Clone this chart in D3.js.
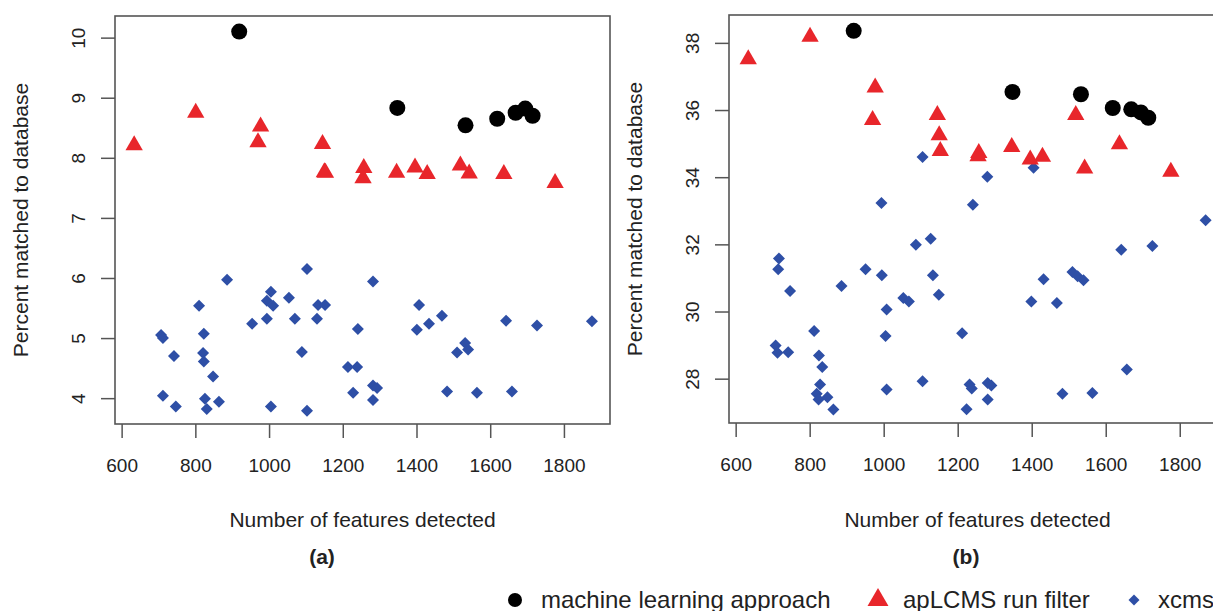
<!DOCTYPE html>
<html><head><meta charset="utf-8">
<script src="https://cdn.jsdelivr.net/npm/d3@7"></script>
<style>html,body{margin:0;padding:0;background:#fff;}svg{display:block;}</style>
</head><body>
<svg id="chart" width="1213" height="611"></svg>
<script>
// ---------- data ----------
const xTicks = [600, 800, 1000, 1200, 1400, 1600, 1800];
const yTicksA = [4, 5, 6, 7, 8, 9, 10];
const yTicksB = [28, 30, 32, 34, 36, 38];

const seriesNames = ["machine learning approach", "apLCMS run filter", "xcms"];

const mlFeatures = [919, 1348, 1533, 1619, 1669, 1695, 1715];
const mlMatchA = [10.10, 8.83, 8.54, 8.65, 8.75, 8.82, 8.70];
const mlMatchB = [38.36, 36.54, 36.47, 36.06, 36.02, 35.93, 35.77];

const apFeatures = [634, 801, 977, 970, 1145, 1150, 1153, 1255, 1257, 1346, 1396, 1429, 1519, 1543, 1637, 1776];
const apMatchA = [8.21, 8.75, 8.52, 8.26, 8.23, 7.76, 7.75, 7.66, 7.83, 7.75, 7.84, 7.73, 7.87, 7.74, 7.73, 7.58];
const apMatchB = [37.51, 38.18, 36.67, 35.70, 35.85, 35.25, 34.78, 34.62, 34.72, 34.90, 34.53, 34.61, 35.85, 34.26, 34.98, 34.16];

const xcmsFeaturesA = [707, 712, 742, 712, 747, 810, 823, 821, 823, 848, 826, 831, 864, 886, 954, 994, 994, 1005, 1011, 1005, 1054, 1070, 1089, 1103, 1103, 1130, 1133, 1152, 1241, 1214, 1239, 1228, 1282, 1282, 1293, 1282, 1407, 1401, 1434, 1469, 1532, 1510, 1540, 1483, 1564, 1643, 1659, 1727, 1876];
const xcmsMatchA = [5.05, 5.00, 4.70, 4.04, 3.86, 5.54, 5.07, 4.75, 4.61, 4.36, 3.99, 3.82, 3.94, 5.97, 5.24, 5.32, 5.62, 5.77, 5.54, 3.86, 5.67, 5.32, 4.77, 6.15, 3.79, 5.32, 5.55, 5.55, 5.15, 4.52, 4.52, 4.09, 5.94, 4.21, 4.17, 3.97, 5.55, 5.14, 5.24, 5.37, 4.92, 4.76, 4.81, 4.11, 4.09, 5.29, 4.11, 5.21, 5.28];

const xcmsFeaturesB = [717, 715, 747, 708, 713, 742, 812, 825, 834, 828, 819, 824, 848, 864, 886, 951, 995, 994, 1008, 1005, 1008, 1053, 1068, 1087, 1105, 1105, 1127, 1133, 1149, 1212, 1224, 1232, 1238, 1241, 1280, 1281, 1291, 1281, 1405, 1399, 1432, 1468, 1510, 1524, 1540, 1483, 1564, 1642, 1726, 1657, 1870];
const xcmsMatchB = [31.58, 31.26, 30.61, 28.99, 28.77, 28.79, 29.42, 28.69, 28.35, 27.83, 27.55, 27.38, 27.45, 27.08, 30.76, 31.26, 31.08, 33.23, 30.06, 29.27, 27.68, 30.40, 30.30, 31.99, 34.60, 27.92, 32.17, 31.08, 30.50, 29.35, 27.09, 27.83, 27.71, 33.18, 34.01, 27.87, 27.80, 27.38, 34.28, 30.30, 30.96, 30.25, 31.18, 31.05, 30.93, 27.55, 27.57, 31.84, 31.95, 28.27, 32.72];

const xTitle = "Number of features detected";
const yTitle = "Percent matched to database";

// ---------- style ----------
const FONT = "'Liberation Sans', Arial, Helvetica, sans-serif";
const TXT = "#222";
const AX = "#555";
const RED = "#e8262b";
const BLUE = "#2e4fa6";

const svg = d3.select("#chart");
svg.append("rect").attr("width", 1213).attr("height", 611).attr("fill", "#fff");

const panels = [
  {left: 115, right: 610, top: 16, bottom: 424, xDom: [582, 1925], yDom: [3.57, 10.36], yTicks: yTicksA,
   ml: mlMatchA, ap: apMatchA, xcmsX: xcmsFeaturesA, xcmsY: xcmsMatchA, label: "(a)", labelX: 322},
  {left: 729, right: 1226, top: 15, bottom: 423, xDom: [582, 1925], yDom: [26.68, 38.83], yTicks: yTicksB,
   ml: mlMatchB, ap: apMatchB, xcmsX: xcmsFeaturesB, xcmsY: xcmsMatchB, label: "(b)", labelX: 966}
];

const triPath = d3.symbol().type(d3.symbolTriangle).size(130)();
const diaPath = d3.symbol().type(d3.symbolSquare).size(72)();

panels.forEach(p => {
  const x = d3.scaleLinear().domain(p.xDom).range([p.left, p.right]);
  const y = d3.scaleLinear().domain(p.yDom).range([p.bottom, p.top]);
  const g = svg.append("g");

  // x axis
  const xa = g.append("g").attr("transform", `translate(0,${p.bottom})`)
    .call(d3.axisBottom(x).tickValues(xTicks).tickSize(14).tickPadding(21).tickFormat(d3.format("d")));
  xa.select(".domain").remove();
  xa.selectAll("line").attr("stroke", AX).attr("stroke-width", 1.5);
  xa.selectAll("text").attr("fill", TXT).style("font-family", FONT).style("font-size", "19px");

  // y axis
  const ya = g.append("g").attr("transform", `translate(${p.left},0)`)
    .call(d3.axisLeft(y).tickValues(p.yTicks).tickSize(14).tickFormat(d3.format("d")));
  ya.select(".domain").remove();
  ya.selectAll("line").attr("stroke", AX).attr("stroke-width", 1.5);
  ya.selectAll("text").attr("x", null).attr("dy", "0.35em").attr("text-anchor", "middle")
    .attr("transform", "translate(-37,0) rotate(-90)")
    .attr("fill", TXT).style("font-family", FONT).style("font-size", "19px");

  // box
  g.append("rect").attr("x", p.left).attr("y", p.top)
    .attr("width", p.right - p.left).attr("height", p.bottom - p.top)
    .attr("fill", "none").attr("stroke", AX).attr("stroke-width", 1.6);

  // titles
  g.append("text").attr("x", (p.left + p.right) / 2).attr("y", 520).attr("dy", "0.35em")
    .attr("text-anchor", "middle").attr("fill", TXT).style("font-family", FONT).style("font-size", "21px")
    .text(xTitle);
  g.append("text").attr("transform", `translate(${p.left - 94},${(p.top + p.bottom) / 2}) rotate(-90)`)
    .attr("dy", "0.35em").attr("text-anchor", "middle").attr("fill", TXT)
    .style("font-family", FONT).style("font-size", "21px").text(yTitle);
  g.append("text").attr("x", p.labelX).attr("y", 557).attr("dy", "0.35em")
    .attr("text-anchor", "middle").attr("fill", TXT).style("font-family", FONT)
    .style("font-size", "21px").style("font-weight", "bold").text(p.label);

  // marks
  g.selectAll(".xcms").data(p.xcmsX).join("path").attr("class", "xcms")
    .attr("d", diaPath).attr("fill", BLUE)
    .attr("transform", (d, i) => `translate(${x(d)},${y(p.xcmsY[i])}) rotate(45)`);
  g.selectAll(".ap").data(apFeatures).join("path").attr("class", "ap")
    .attr("d", triPath).attr("fill", RED)
    .attr("transform", (d, i) => `translate(${x(d)},${y(p.ap[i])})`);
  g.selectAll(".ml").data(mlFeatures).join("circle").attr("class", "ml")
    .attr("cx", d => x(d)).attr("cy", (d, i) => y(p.ml[i])).attr("r", 8).attr("fill", "#000");
});

// legend
const legY = 600;
const leg = svg.append("g");
const legItems = [
  {sx: 515, tx: 541, kind: "circle"},
  {sx: 878, tx: 903, kind: "tri"},
  {sx: 1134, tx: 1158, kind: "dia"}
];
legItems.forEach((it, i) => {
  if (it.kind === "circle") leg.append("circle").attr("cx", it.sx).attr("cy", legY).attr("r", 7).attr("fill", "#000");
  else if (it.kind === "tri") leg.append("path").attr("d", d3.symbol().type(d3.symbolTriangle).size(190)()).attr("fill", RED).attr("transform", `translate(${it.sx},${legY})`);
  else leg.append("path").attr("d", d3.symbol().type(d3.symbolSquare).size(60)()).attr("fill", BLUE).attr("transform", `translate(${it.sx},${legY}) rotate(45)`);
  leg.append("text").attr("x", it.tx).attr("y", legY).attr("dy", "0.35em").attr("fill", TXT)
    .style("font-family", FONT).style("font-size", "24px").text(seriesNames[i]);
});
</script>
</body></html>
